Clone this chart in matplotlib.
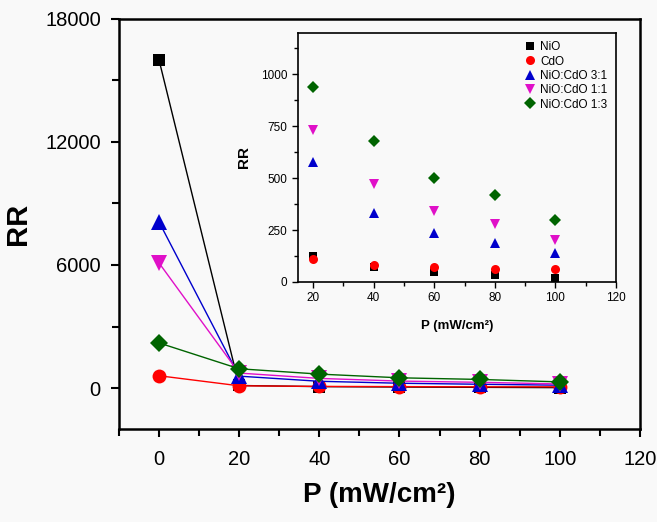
import matplotlib
matplotlib.use('Agg')
import matplotlib.pyplot as plt
from matplotlib.ticker import MultipleLocator

plt.rcParams['font.family'] = ['Liberation Sans', 'DejaVu Sans']

# potencia de iluminacao (mW/cm2)
P = [0, 20, 40, 60, 80, 100]

# razao de retificacao para cada amostra
rr_nio = [16000, 125, 70, 50, 35, 20]
rr_cdo = [600, 110, 80, 70, 60, 60]
rr_31 = [8100, 580, 330, 235, 185, 140]
rr_11 = [6100, 730, 470, 340, 280, 200]
rr_13 = [2200, 940, 680, 500, 420, 300]

nomes = ['NiO', 'CdO', 'NiO:CdO 3:1', 'NiO:CdO 1:1', 'NiO:CdO 1:3']
series = [rr_nio, rr_cdo, rr_31, rr_11, rr_13]
cores = ['black', '#ff0000', '#0000cc', '#e010c8', '#006400']
marcadores = ['s', 'o', '^', 'v', 'D']
tam_main = [9, 10, 12, 12, 9.5]
tam_ins = [5.5, 6.5, 7, 7, 6]

fundo = '#f9f9f9'
fig = plt.figure(figsize=(6.57, 5.22), dpi=100, facecolor=fundo)

ax = fig.add_axes([0.181, 0.178, 0.793, 0.786], facecolor=fundo)
for y, c, m, s in zip(series, cores, marcadores, tam_main):
    ax.plot(P, y, color=c, marker=m, markersize=s, linewidth=1, markeredgewidth=0)
ax.set_xlim(-10, 120)
ax.set_ylim(-2000, 18000)
ax.xaxis.set_major_locator(MultipleLocator(20))
ax.xaxis.set_minor_locator(MultipleLocator(10))
ax.yaxis.set_major_locator(MultipleLocator(6000))
ax.yaxis.set_minor_locator(MultipleLocator(3000))
ax.set_yticks([0, 6000, 12000, 18000])
ax.tick_params(which='both', direction='out', width=1.5, labelsize=14.5, top=False, right=False)
ax.tick_params(which='major', length=6)
ax.tick_params(which='minor', length=5)
ax.tick_params(axis='x', which='major', pad=9)
ax.tick_params(axis='y', which='major', pad=7)
for sp in ax.spines.values():
    sp.set_linewidth(1.8)
ax.set_xlabel('P (mW/cm²)', fontsize=20, fontweight='bold')
ax.set_ylabel('RR', fontsize=21, fontweight='bold')
ax.xaxis.set_label_coords(0.5, -0.13)
ax.yaxis.set_label_coords(-0.167, 0.5)

# grafico interno
ins = fig.add_axes([0.4536, 0.46, 0.484, 0.477], facecolor=fundo)
for y, c, m, s, n in zip(series, cores, marcadores, tam_ins, nomes):
    ins.plot(P[1:], y[1:], linestyle='none', color=c, marker=m, markersize=s,
             markeredgewidth=0, label=n)
ins.set_xlim(15, 120)
ins.set_ylim(0, 1200)
ins.xaxis.set_major_locator(MultipleLocator(20))
ins.xaxis.set_minor_locator(MultipleLocator(10))
ins.yaxis.set_major_locator(MultipleLocator(250))
ins.yaxis.set_minor_locator(MultipleLocator(125))
ins.set_yticks([0, 250, 500, 750, 1000])
ins.tick_params(which='both', direction='out', width=1, labelsize=8.5, top=False, right=False)
ins.tick_params(which='major', length=4)
ins.tick_params(which='minor', length=3)
for sp in ins.spines.values():
    sp.set_linewidth(1.2)
ins.set_xlabel('P (mW/cm²)', fontsize=9.5, fontweight='bold')
ins.set_ylabel('RR', fontsize=11, fontweight='bold')
ins.xaxis.set_label_coords(0.5, -0.153)
ins.yaxis.set_label_coords(-0.148, 0.5)
ins.legend(loc='upper right', frameon=False, fontsize=8.5, handletextpad=0.3,
           labelspacing=0.2, borderaxespad=0.3, handlelength=1.2)

plt.savefig('out.png', dpi=100, facecolor=fundo)
